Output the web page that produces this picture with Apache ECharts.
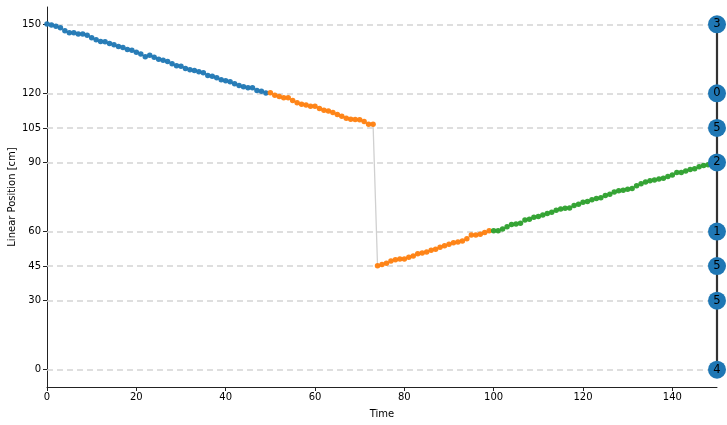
<!DOCTYPE html>
<html>
<head>
<meta charset="utf-8">
<script src="https://cdn.jsdelivr.net/npm/echarts@6/dist/echarts.min.js"></script>
<style>html,body{margin:0;padding:0;background:#fff}#c{width:727px;height:425px}</style>
</head>
<body>
<div id="c"></div>
<script>
// Segment 1 (t = 0..49)
const blueStart = 0;
const blueVals = [150.1,149.7,149.1,148.5,147.2,146.3,146.3,145.8,145.8,145.2,
  144.2,143.3,142.5,142.4,141.7,141.1,140.3,139.9,139.0,138.7,
  137.8,137.1,135.9,136.5,135.7,134.8,134.4,133.8,132.9,132.0,
  131.8,130.8,130.3,129.9,129.4,129.0,127.8,127.4,126.8,125.9,
  125.5,125.0,124.2,123.4,122.9,122.4,122.4,121.2,120.9,120.2];
// Segment 2 (t = 50..99)
const orangeStart = 50;
const orangeVals = [120.3,119.2,118.6,118.1,118.1,116.9,115.9,115.3,115.0,114.4,
  114.4,113.4,112.7,112.3,111.7,110.8,110.1,109.2,108.8,108.6,
  108.5,107.8,106.6,106.6,
  45.2,45.7,46.2,47.2,47.8,48.1,48.1,48.8,49.4,50.4,
  50.7,51.1,51.9,52.3,53.2,53.8,54.5,55.1,55.5,55.9,
  56.9,58.5,58.5,58.8,59.6,60.3];
// Segment 3 (t = 100..149)
const greenStart = 100;
const greenVals = [60.3,60.3,61.1,62.1,63.1,63.3,63.6,65.0,65.3,66.2,
  66.5,67.2,67.8,68.4,69.2,69.8,70.1,70.2,71.3,71.8,
  72.7,73.0,73.8,74.3,74.7,75.7,76.2,77.2,77.7,77.9,
  78.4,78.7,79.9,80.7,81.5,82.1,82.4,82.8,83.1,83.9,
  84.5,85.6,85.6,86.3,86.9,87.3,88.1,88.7,89.0,89.4];
// Reference positions and their labels
const levelValues = [150,120,105,90,60,45,30,0];
const levelLabels = ['3','0','5','2','1','5','5','4'];
const levelX = 150;
const xTicks = [0,20,40,60,80,100,120,140];

const toPts = (start, vals) => vals.map((v,i)=>[start+i, v]);
const bluePts = toPts(blueStart, blueVals);
const orangePts = toPts(orangeStart, orangeVals);
const greenPts = toPts(greenStart, greenVals);
const allPts = bluePts.concat(orangePts, greenPts);

const font = 'DejaVu Sans';
const chart = echarts.init(document.getElementById('c'));
const markerSeries = (pts, color) => ({
  type: 'scatter', data: pts, symbolSize: 5.5,
  itemStyle: {color: color, opacity: 0.95}, z: 3, clip: false
});
chart.setOption({
  animation: false,
  grid: {left: 47, right: 10, top: 7, bottom: 38, containLabel: false, outerBoundsMode: 'none'},
  xAxis: {
    type: 'value', min: 0, max: 150,
    name: 'Time', nameLocation: 'middle', nameGap: 22, nameMoveOverlap: false,
    nameTextStyle: {fontFamily: font, fontSize: 10, color: '#000'},
    axisLine: {onZero: false, lineStyle: {color: '#222', width: 1}},
    axisTick: {show: true, length: 4, customValues: xTicks, lineStyle: {color: '#222'}},
    axisLabel: {customValues: xTicks, fontFamily: font, fontSize: 10, color: '#000', margin: 5},
    splitLine: {show: false}
  },
  yAxis: {
    type: 'value', min: -7.5, max: 157.5,
    name: 'Linear Position [cm]', nameLocation: 'middle', nameGap: 30, nameRotate: 90,
    nameMoveOverlap: false,
    nameTextStyle: {fontFamily: font, fontSize: 10, color: '#000'},
    axisLine: {show: true, onZero: false, lineStyle: {color: '#222', width: 1}},
    axisTick: {show: true, length: 4, customValues: levelValues, lineStyle: {color: '#222'}},
    axisLabel: {customValues: levelValues, fontFamily: font, fontSize: 10, color: '#000', margin: 6},
    splitLine: {show: false}
  },
  series: [
    {
      type: 'line', data: allPts, showSymbol: false, symbol: 'none',
      lineStyle: {color: '#d0d0d0', width: 1.3}, z: 2,
      markLine: {
        silent: true, symbol: 'none', label: {show: false},
        lineStyle: {color: '#d3d3d3', type: [6, 4], width: 1.5},
        data: levelValues.map(v => ({yAxis: v})), z: 1
      }
    },
    markerSeries(bluePts, '#1f77b4'),
    markerSeries(orangePts, '#ff7f0e'),
    markerSeries(greenPts, '#2ca02c'),
    {
      type: 'line', data: [[levelX, Math.min(...levelValues)], [levelX, Math.max(...levelValues)]],
      symbol: 'none', lineStyle: {color: '#333', width: 2.2}, z: 4, clip: false
    },
    {
      type: 'scatter', clip: false, z: 5,
      data: levelValues.map((v,i)=>({value: [levelX, v], name: levelLabels[i]})),
      symbolSize: 18, itemStyle: {color: '#1f77b4', opacity: 1},
      label: {show: true, position: 'inside', formatter: p => p.name,
        fontFamily: font, fontSize: 11.5, color: '#000'}
    }
  ]
});
</script>
</body>
</html>
